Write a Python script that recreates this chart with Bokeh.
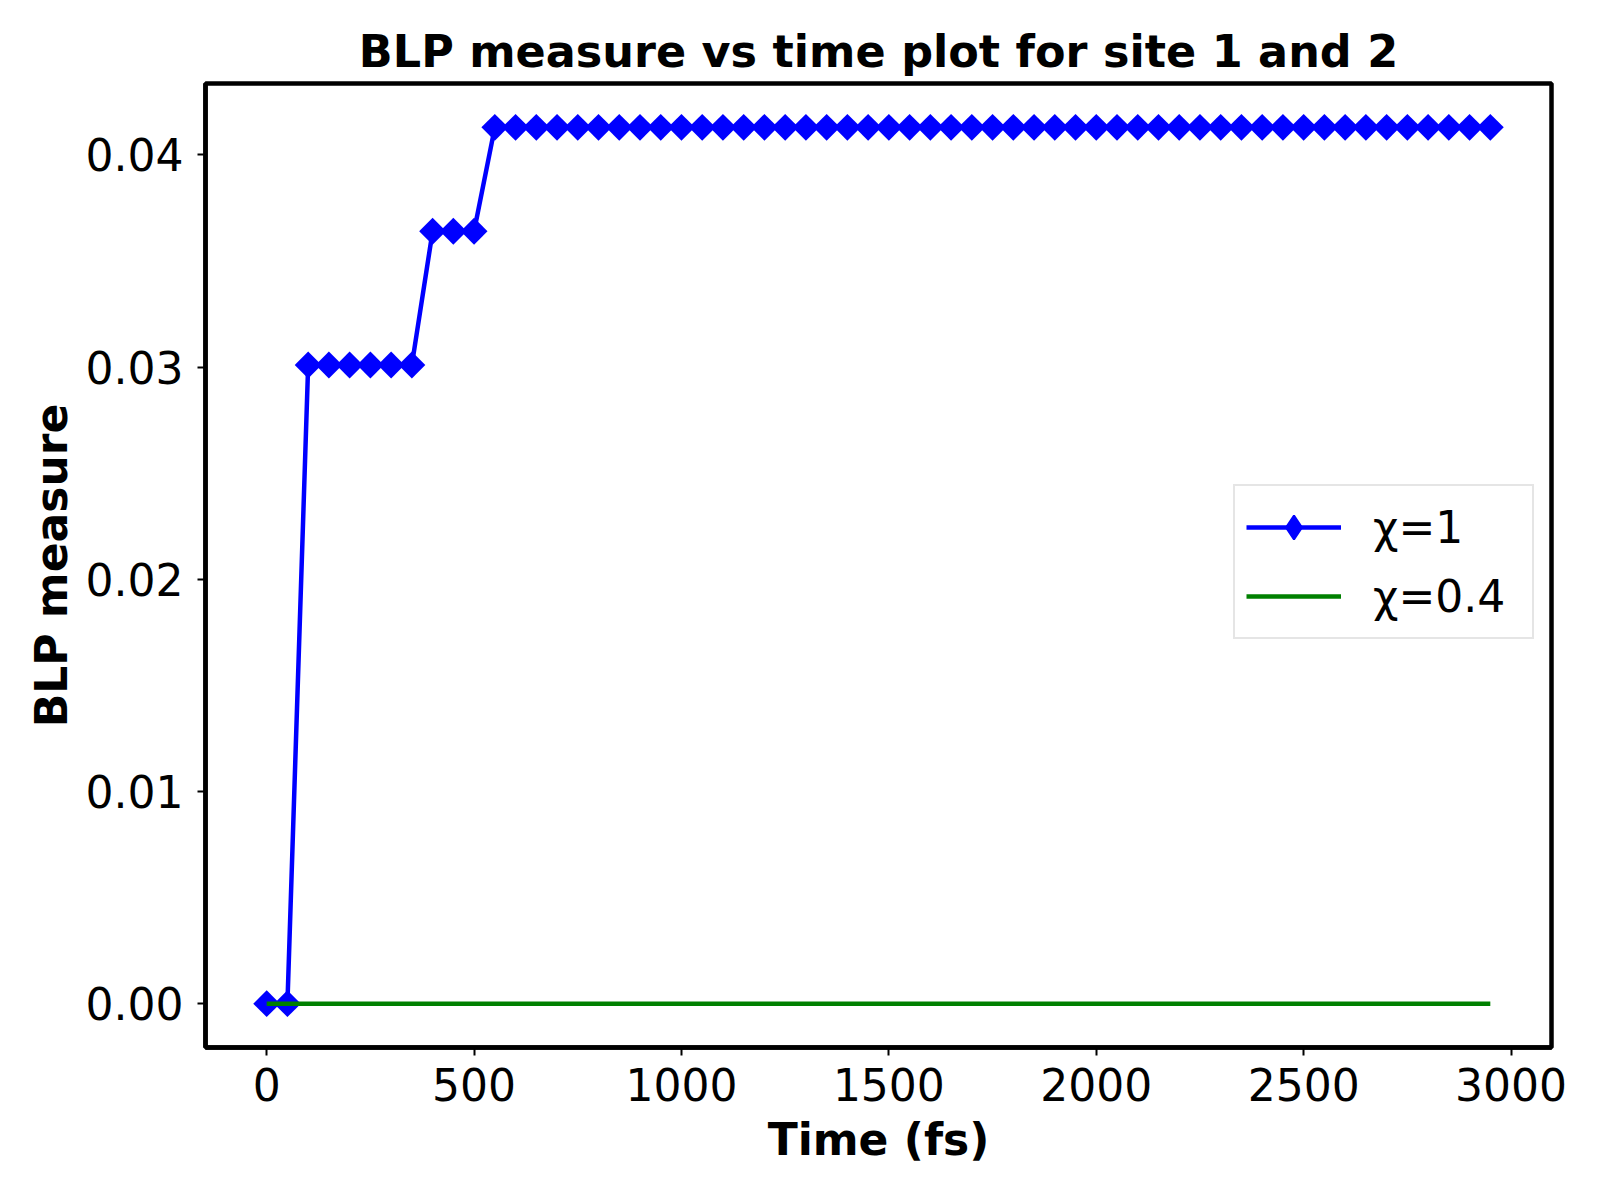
import numpy as np
from bokeh.plotting import figure
from bokeh.models import Legend, LegendItem, NumeralTickFormatter, FixedTicker, Range1d
from bokeh.embed import file_html
from bokeh.resources import INLINE

# ---- data ----
time_fs = [0, 50, 100, 150, 200, 250, 300, 350, 400, 450, 500, 550, 600, 650, 700,
           750, 800, 850, 900, 950, 1000, 1050, 1100, 1150, 1200, 1250, 1300, 1350,
           1400, 1450, 1500, 1550, 1600, 1650, 1700, 1750, 1800, 1850, 1900, 1950,
           2000, 2050, 2100, 2150, 2200, 2250, 2300, 2350, 2400, 2450, 2500, 2550,
           2600, 2650, 2700, 2750, 2800, 2850, 2900, 2950]
blp_chi_1 = [0.0, 0.0,
             0.0301, 0.0301, 0.0301, 0.0301, 0.0301, 0.0301,
             0.0364, 0.0364, 0.0364,
             0.0413, 0.0413, 0.0413, 0.0413, 0.0413, 0.0413, 0.0413, 0.0413, 0.0413,
             0.0413, 0.0413, 0.0413, 0.0413, 0.0413, 0.0413, 0.0413, 0.0413, 0.0413,
             0.0413, 0.0413, 0.0413, 0.0413, 0.0413, 0.0413, 0.0413, 0.0413, 0.0413,
             0.0413, 0.0413, 0.0413, 0.0413, 0.0413, 0.0413, 0.0413, 0.0413, 0.0413,
             0.0413, 0.0413, 0.0413, 0.0413, 0.0413, 0.0413, 0.0413, 0.0413, 0.0413,
             0.0413, 0.0413, 0.0413, 0.0413]
blp_chi_04 = [0.0, 0.0, 0.0, 0.0, 0.0, 0.0, 0.0, 0.0, 0.0, 0.0, 0.0, 0.0, 0.0, 0.0, 0.0,
              0.0, 0.0, 0.0, 0.0, 0.0, 0.0, 0.0, 0.0, 0.0, 0.0, 0.0, 0.0, 0.0, 0.0, 0.0,
              0.0, 0.0, 0.0, 0.0, 0.0, 0.0, 0.0, 0.0, 0.0, 0.0, 0.0, 0.0, 0.0, 0.0, 0.0,
              0.0, 0.0, 0.0, 0.0, 0.0, 0.0, 0.0, 0.0, 0.0, 0.0, 0.0, 0.0, 0.0, 0.0, 0.0]
x_ticks = [0, 500, 1000, 1500, 2000, 2500, 3000]
y_ticks = [0.0, 0.01, 0.02, 0.03, 0.04]
labels = ["χ=1", "χ=0.4"]

FONT = "DejaVu Sans"
FS = "44px"

# ranges with 5% margins like matplotlib
x_min, x_max = min(time_fs), max(time_fs)
y_min = min(min(blp_chi_1), min(blp_chi_04))
y_max = max(max(blp_chi_1), max(blp_chi_04))
xm = 0.05 * (x_max - x_min)
ym = 0.05 * (y_max - y_min)

p = figure(frame_width=1346, frame_height=964,
           min_border_left=205, min_border_right=41, min_border_top=83, min_border_bottom=140,
           x_range=Range1d(x_min - xm, x_max + xm), y_range=Range1d(y_min - ym, y_max + ym),
           output_backend="svg", toolbar_location=None,
           title="BLP measure vs time plot for site 1 and 2")

p.background_fill_color = "white"
p.border_fill_color = "white"
p.outline_line_color = "black"
p.outline_line_width = 4.5
p.xgrid.visible = False
p.ygrid.visible = False

p.title.text_font = FONT
p.title.text_font_size = "44.5px"
p.title.text_font_style = "bold"
p.title.text_color = "black"
p.title.align = "center"
p.title.standoff = 13

for ax in (p.xaxis[0], p.yaxis[0]):
    ax.axis_line_color = "black"
    ax.axis_line_width = 4.5
    ax.major_tick_line_color = "black"
    ax.major_tick_line_width = 2
    ax.major_tick_out = 8
    ax.major_tick_in = 0
    ax.minor_tick_line_color = None
    ax.major_label_text_font = FONT
    ax.major_label_text_font_size = FS
    ax.major_label_text_color = "black"
    ax.axis_label_text_font = FONT
    ax.axis_label_text_font_size = FS
    ax.axis_label_text_font_style = "bold"
    ax.axis_label_text_color = "black"

p.xaxis.ticker = FixedTicker(ticks=x_ticks)
p.yaxis.ticker = FixedTicker(ticks=y_ticks)
p.yaxis.formatter = NumeralTickFormatter(format="0.00")
p.xaxis.axis_label = "Time (fs)"
p.yaxis.axis_label = "BLP measure"
p.xaxis.major_label_standoff = 12
p.yaxis.major_label_standoff = 14
p.xaxis.axis_label_standoff = 10
p.yaxis.axis_label_standoff = 6

r_line1 = p.line(time_fs, blp_chi_1, line_color="blue", line_width=4.5)
r_mark1 = p.scatter(time_fs, blp_chi_1, marker="square", angle=np.pi / 4, size=19,
                    fill_color="blue", line_color="blue", line_width=0)
r_line2 = p.line(time_fs, blp_chi_04, line_color="green", line_width=4.5)
# legend-only diamond key (legend glyphs are never rotated); NaN keeps it off the plot
r_key1 = p.scatter(x=[float("nan")], y=[float("nan")], marker="diamond",
                   fill_color="blue", line_color="blue", line_width=2)

legend = Legend(items=[LegendItem(label=labels[0], renderers=[r_line1, r_key1]),
                       LegendItem(label=labels[1], renderers=[r_line2])],
                location=(1028, 408), margin=0, padding=11,
                glyph_width=95, glyph_height=60, label_height=50, label_width=148,
                label_standoff=32, spacing=9,
                label_text_font=FONT, label_text_font_size=FS, label_text_color="black",
                border_line_color="#cccccc", border_line_width=2,
                background_fill_color="white", background_fill_alpha=1.0)
p.add_layout(legend, "center")

open("out.html", "w").write(file_html(p, INLINE))
